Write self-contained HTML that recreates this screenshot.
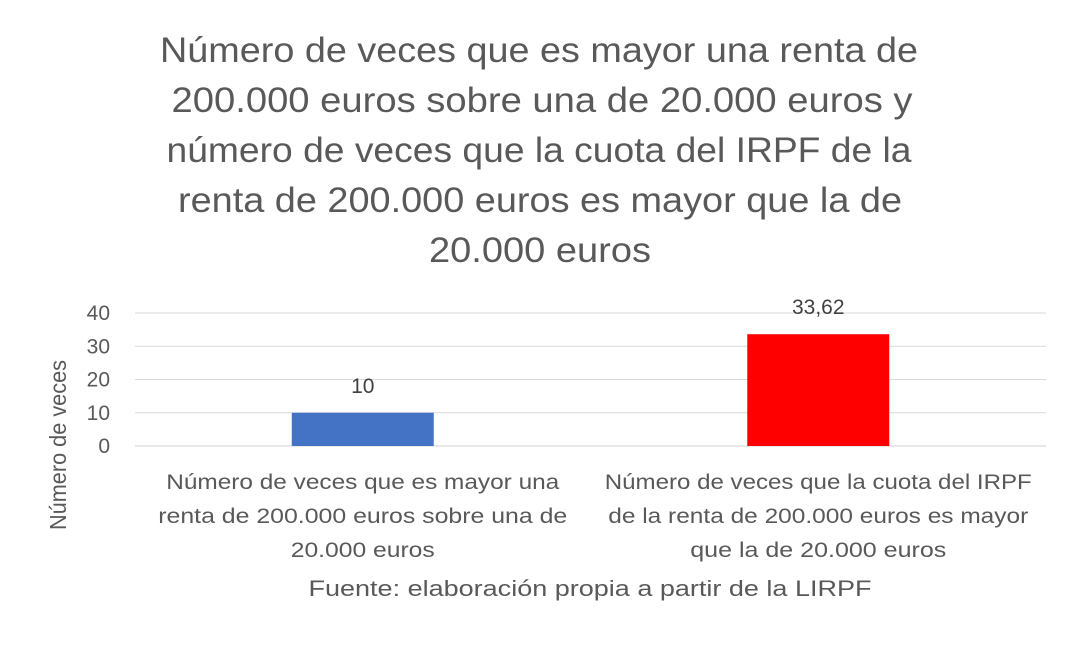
<!DOCTYPE html>
<html><head><meta charset="utf-8"><style>
body{margin:0;background:#fff;width:1077px;height:644px;overflow:hidden;font-family:"Liberation Sans",sans-serif}
</style></head><body>
<svg width="1077" height="644" font-family="Liberation Sans, sans-serif" fill="#595959">
<g font-size="35" text-anchor="middle">
<text x="539" y="62" textLength="758" lengthAdjust="spacingAndGlyphs">Número de veces que es mayor una renta de</text>
<text x="542" y="112" textLength="741" lengthAdjust="spacingAndGlyphs">200.000 euros sobre una de 20.000 euros y</text>
<text x="539" y="162" textLength="745" lengthAdjust="spacingAndGlyphs">número de veces que la cuota del IRPF de la</text>
<text x="540" y="212" textLength="724" lengthAdjust="spacingAndGlyphs">renta de 200.000 euros es mayor que la de</text>
<text x="540" y="262" textLength="222" lengthAdjust="spacingAndGlyphs">20.000 euros</text>
</g>
<g id="grid"></g>
<g id="yticks" font-size="21" text-anchor="end"></g>
<g id="bars"></g>
<g id="cats" font-size="21" text-anchor="middle"></g>
<text font-size="23" text-anchor="middle" transform="translate(66,445) rotate(-90)" textLength="170" lengthAdjust="spacingAndGlyphs">Número de veces</text>
<text font-size="22" text-anchor="middle" x="590" y="596" textLength="563" lengthAdjust="spacingAndGlyphs">Fuente: elaboración propia a partir de la LIRPF</text>
</svg>
<script>
const categories=[["Número de veces que es mayor una","renta de 200.000 euros sobre una de","20.000 euros"],["Número de veces que la cuota del IRPF","de la renta de 200.000 euros es mayor","que la de 20.000 euros"]];
const values=[10,33.62];
const valueLabels=["10","33,62"];
const barColors=["#4472C4","#FF0000"];
const yTicks=[0,10,20,30,40];
const catWidths=[[393,409,144],[427,420,256]];
const NS="http://www.w3.org/2000/svg";
const x0=135,x1=1046,yBase=446,yTop=313,yMax=40;
const y=v=>yBase-(yBase-yTop)*v/yMax;
const band=(x1-x0)/categories.length;
function mk(t,a,p){const e=document.createElementNS(NS,t);for(const k in a)e.setAttribute(k,a[k]);p.appendChild(e);return e;}
const g=document.getElementById('grid'),yt=document.getElementById('yticks'),b=document.getElementById('bars'),c=document.getElementById('cats');
yTicks.forEach(v=>{
 const l=mk('line',{x1:x0,x2:x1,y1:y(v),y2:y(v),stroke:v===0?'#d0d0d0':'#d9d9d9','stroke-width':1},g);
 
 
 const t=mk('text',{x:x0-25,y:y(v)+7},yt);t.textContent=v;
 
 
});
values.forEach((v,i)=>{
 const cx=x0+band*(i+0.5),w=142;
 const r=mk('rect',{x:cx-w/2,y:y(v),width:w,height:yBase-y(v),fill:barColors[i]},b);
 
 
 const t=mk('text',{x:cx,y:y(v)-20,'font-size':21,'text-anchor':'middle',fill:'#404040'},b);t.textContent=valueLabels[i];
 
 
 categories[i].forEach((s,j)=>{const tt=mk('text',{x:cx,y:489+j*34,textLength:catWidths[i][j],lengthAdjust:'spacingAndGlyphs'},c);tt.textContent=s;
 
 });
});
</script>
</body></html>
